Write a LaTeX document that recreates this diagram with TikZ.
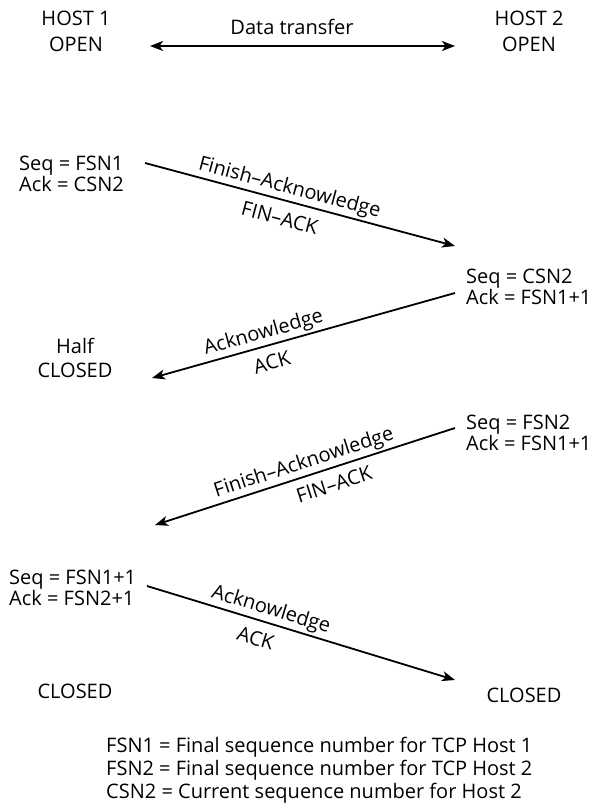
\documentclass[tikz,border=0pt]{standalone}
\usepackage{fontspec}
\setmainfont{Open Sans}
\usetikzlibrary{arrows.meta}
\begin{document}
\begin{tikzpicture}[x=1pt,y=-1pt,
  txt/.style={font=\fontsize{20}{21}\selectfont, inner sep=0pt},
  host/.style={txt, align=center, anchor=base, font=\fontsize{20}{26}\selectfont},
  state/.style={txt, align=left, anchor=base west},
  msg/.style={line width=1.8pt, -{Stealth[length=13pt,width=10pt,inset=3.5pt]}},
  tag/.style={txt, sloped}]
\useasboundingbox (0,0) rectangle (596,811);

% host headers and data transfer (anchors sit on the last line's baseline)
\node[host] (h1) at (76,51) {HOST 1\\OPEN};
\node[host] (h2) at (529,51) {HOST 2\\OPEN};
\coordinate (dl) at (150,46);
\coordinate (dr) at (455,46);
\draw[line width=1.8pt, {Stealth[length=13pt,width=10pt,inset=3.5pt]}-{Stealth[length=13pt,width=10pt,inset=3.5pt]}] (dl) -- (dr);
\node[txt, anchor=base] (dt) at (292,34) {Data transfer};

% host 1 sends FIN-ACK
\node[state] (s1) at (19,191) {Seq = FSN1\\Ack = CSN2};
\coordinate (a1s) at (145,163);
\coordinate (a1e) at (455,246);
\draw[msg] (a1s) -- node[tag, pos=0.455, above=2pt] (t1a) {Finish–Acknowledge}
                    node[tag, pos=0.45, below=10pt] (t1b) {FIN–ACK} (a1e);

% host 2 acknowledges
\node[state] (s2) at (466,304) {Seq = CSN2\\Ack = FSN1+1};
\coordinate (a2s) at (455,293);
\coordinate (a2e) at (152,378);
\draw[msg] (a2s) -- node[tag, pos=0.62, above=2pt] (t2a) {Acknowledge}
                    node[tag, pos=0.62, below=9pt] (t2b) {ACK} (a2e);
\node[host, font=\fontsize{20}{24}\selectfont] (hc) at (75,377) {Half\\CLOSED};

% host 2 sends FIN-ACK
\node[state] (s3) at (466,450) {Seq = FSN2\\Ack = FSN1+1};
\coordinate (a3s) at (455,428);
\coordinate (a3e) at (155,525);
\draw[msg] (a3s) -- node[tag, pos=0.49, above=2pt] (t3a) {Finish–Acknowledge}
                    node[tag, pos=0.42, below=8pt] (t3b) {FIN–ACK} (a3e);

% host 1 acknowledges
\node[state] (s4) at (9,605) {Seq = FSN1+1\\Ack = FSN2+1};
\coordinate (a4s) at (147,586);
\coordinate (a4e) at (455,680);
\draw[msg] (a4s) -- node[tag, pos=0.39, above=2pt] (t4a) {Acknowledge}
                    node[tag, pos=0.37, below=10pt] (t4b) {ACK} (a4e);

\node[txt, anchor=base] (c1) at (75,698) {CLOSED};
\node[txt, anchor=base] (c2) at (524,702) {CLOSED};

% legend
\node[txt, anchor=base west] (l1) at (106,752) {FSN1 = Final sequence number for TCP Host 1};
\node[txt, anchor=base west] (l2) at (106,775) {FSN2 = Final sequence number for TCP Host 2};
\node[txt, anchor=base west] (l3) at (106,798) {CSN2 = Current sequence number for Host 2};
\end{tikzpicture}
\end{document}
